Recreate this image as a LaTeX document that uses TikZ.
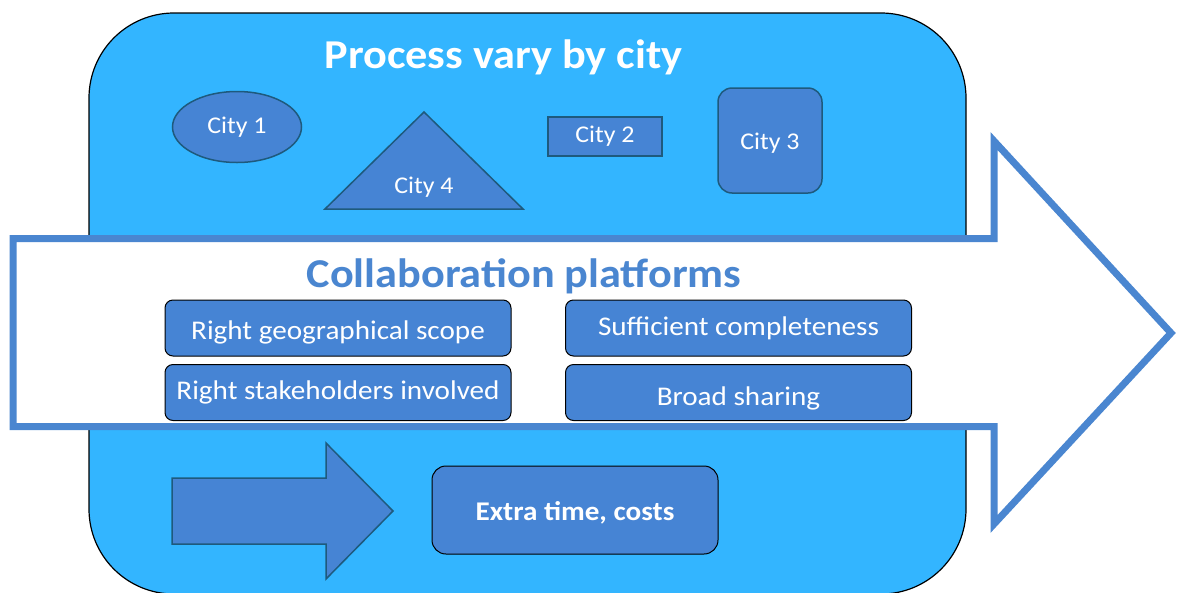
\documentclass[tikz,border=0pt]{standalone}
\usepackage{xcolor}
\usepackage{fontspec}
\setmainfont{Carlito}[FakeStretch=1.08]
\usetikzlibrary{shapes,positioning}
\definecolor{skyfill}{RGB}{51,181,255}
\definecolor{boxblue}{RGB}{70,132,212}
\definecolor{edgeteal}{RGB}{30,90,125}
\definecolor{arrowblue}{RGB}{74,134,208}
\newcommand{\dropby}[2]{\raisebox{-#1}[\height][\depth]{#2}}
\tikzset{
  city/.style={fill=boxblue, draw=edgeteal, line width=1.5pt, text=white, font=\fontsize{24}{29}\selectfont},
  factor/.style={fill=boxblue, draw=black, line width=1pt, rounded corners=8pt, text=white, font=\fontsize{27}{32}\selectfont, minimum width=346pt, minimum height=56pt},
}

\begin{document}
\begin{tikzpicture}[x=1pt,y=-1pt]
    \useasboundingbox (0,0) rectangle (1178,592);
    % Background panel
    \draw[fill=skyfill, draw=black, line width=1.2pt, rounded corners=85pt] (89,13) rectangle (966,594);
    \node[text=white, font=\fontsize{41}{49}\selectfont\bfseries] (title) at (503.5,57) {Process vary by city};
    % Cities
    \node[city, ellipse, minimum width=129pt, minimum height=71pt] (city1) at (237,127) {City 1};
    \node[city, minimum width=114pt, minimum height=39pt] (city2) at (605,136.5) {City 2};
    \node[city, rounded corners=14pt, minimum width=104pt, minimum height=105pt] (city3) at (770,140.5) {\dropby{3pt}{City 3}};
    \draw[city] (325,209) -- (424,112) -- (523,209) -- cycle;
    \node[text=white, font=\fontsize{24}{29}\selectfont] (city4) at (424,187) {City 4};
    % Big arrow
    \draw[arrowblue, fill=white, line width=7pt] (13,238.5) -- (994,238.5) -- (994,141) -- (1171,333) -- (994,524) -- (994,426.5) -- (13,426.5) -- cycle;
    \node[text=arrowblue, font=\fontsize{41}{49}\selectfont\bfseries] (collab) at (524,276) {Collaboration platforms};
    \node[factor] (geo) at (338,328) {\dropby{4pt}{Right geographical scope}};
    \node[factor] (stake) at (338,392.5) {Right stakeholders involved};
    \node[factor] (complete) at (738.5,328) {Sufficient completeness};
    \node[factor] (share) at (738.5,392.5) {\dropby{6pt}{Broad sharing}};
    % Outcome
    \draw[fill=boxblue, draw=edgeteal, line width=1.5pt] (172,478) -- (326,478) -- (326,443) -- (393,511) -- (326,579) -- (326,544) -- (172,544) -- cycle;
    \node[fill=boxblue, draw=black, line width=1pt, rounded corners=14pt, minimum width=286pt, minimum height=88pt, text=white, font=\fontsize{27}{32}\selectfont\bfseries] (extra) at (575,510) {\dropby{3pt}{Extra time, costs}};
\end{tikzpicture}
\end{document}
